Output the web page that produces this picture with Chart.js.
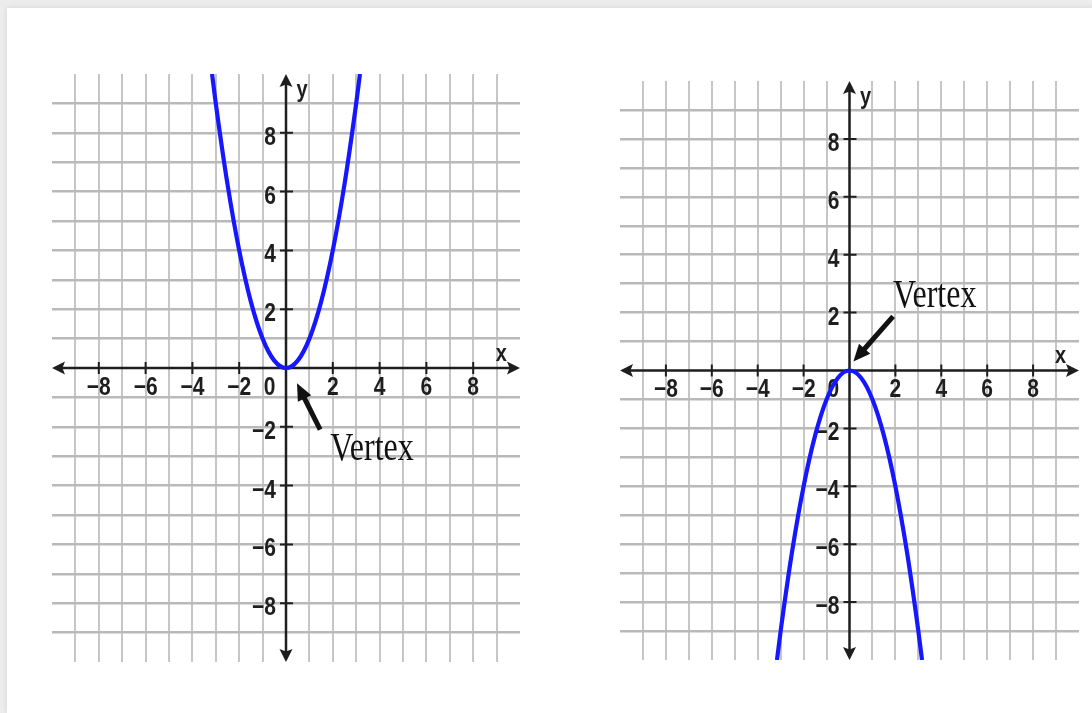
<!DOCTYPE html>
<html>
<head>
<meta charset="utf-8">
<title>Parabolas y = x² and y = −x²</title>
<script src="https://cdn.jsdelivr.net/npm/chart.js@4.4.1/dist/chart.umd.min.js"></script>
<style>
  html, body { margin: 0; padding: 0; width: 1092px; height: 713px; overflow: hidden; background: #ececec; }
  #sheet { position: absolute; left: 7px; top: 8px; right: 0; bottom: 0; background: #ffffff; box-shadow: 0 0 5px rgba(0,0,0,0.10); }
  canvas { position: absolute; top: 0; }
  #upChart { left: 0; }
  #downChart { left: 560px; }
</style>
</head>
<body>
<div id="sheet"></div>
<canvas id="upChart" width="560" height="713"></canvas>
<canvas id="downChart" width="532" height="713"></canvas>
<script>
// Points on the opening-up parabola (left graph)
const upX = [-3.16, -3, -2.5, -2, -1.5, -1, -0.5, 0, 0.5, 1, 1.5, 2, 2.5, 3, 3.16];
const upY = [10, 9, 6.25, 4, 2.25, 1, 0.25, 0, 0.25, 1, 2.25, 4, 6.25, 9, 10];

// Points on the opening-down parabola (right graph)
const downX = [-3.16, -3, -2.5, -2, -1.5, -1, -0.5, 0, 0.5, 1, 1.5, 2, 2.5, 3, 3.16];
const downY = [-10, -9, -6.25, -4, -2.25, -1, -0.25, 0, -0.25, -1, -2.25, -4, -6.25, -9, -10];

// Axis tick values and their printed labels
const xTickValues = [-8, -6, -4, -2, 2, 4, 6, 8];
const xTickLabels = ['\u22128', '\u22126', '\u22124', '\u22122', '2', '4', '6', '8'];
const yTickValues = [8, 6, 4, 2, -2, -4, -6, -8];
const yTickLabels = ['8', '6', '4', '2', '\u22122', '\u22124', '\u22126', '\u22128'];
const originLabel = '0';
const axisNames = ['x', 'y'];
const calloutText = 'Vertex';

// Plot window
const RANGE = 10;

const AXIS_COLOR = '#1e1e1e';
const CURVE_COLOR = 'rgb(22, 22, 255)';
const TICK_FONT = "bold 21px 'Liberation Sans', Arial, sans-serif";
const NAME_FONT = "bold 20px 'Liberation Sans', Arial, sans-serif";
const CALLOUT_FONT = "32px 'Liberation Serif', 'Times New Roman', serif";

function stretchedText(ctx, text, x, y, font, align, baseline, sy) {
  ctx.save();
  ctx.translate(x, y);
  ctx.scale(1, sy);
  ctx.font = font;
  ctx.textAlign = align;
  ctx.textBaseline = baseline;
  ctx.fillText(text, 0, 0);
  ctx.restore();
}

function arrowHead(ctx, tipX, tipY, angle, len, half) {
  ctx.save();
  ctx.translate(tipX, tipY);
  ctx.rotate(angle);
  ctx.beginPath();
  ctx.moveTo(0, 0);
  ctx.lineTo(-len, -half);
  ctx.lineTo(-len * 0.8, 0);
  ctx.lineTo(-len, half);
  ctx.closePath();
  ctx.fill();
  ctx.restore();
}

// Axes through the origin with arrowheads, tick marks, labels and axis names
const axesPlugin = {
  id: 'originAxes',
  beforeDatasetsDraw(chart) {
    const { ctx, scales: { x, y } } = chart;
    const ox = x.getPixelForValue(0), oy = y.getPixelForValue(0);
    const L = x.getPixelForValue(-RANGE), R = x.getPixelForValue(RANGE);
    const T = y.getPixelForValue(RANGE), B = y.getPixelForValue(-RANGE);
    ctx.save();
    ctx.strokeStyle = AXIS_COLOR;
    ctx.fillStyle = AXIS_COLOR;
    ctx.lineWidth = 2.5;
    ctx.beginPath();
    ctx.moveTo(L + 6, oy); ctx.lineTo(R - 6, oy);
    ctx.moveTo(ox, T + 6); ctx.lineTo(ox, B - 6);
    ctx.stroke();
    arrowHead(ctx, R, oy, 0, 13, 6.5);
    arrowHead(ctx, L, oy, Math.PI, 13, 6.5);
    arrowHead(ctx, ox, T, -Math.PI / 2, 13, 6.5);
    arrowHead(ctx, ox, B, Math.PI / 2, 13, 6.5);

    ctx.lineWidth = 2;
    ctx.beginPath();
    xTickValues.forEach(v => {
      const px = x.getPixelForValue(v);
      ctx.moveTo(px, oy - 6); ctx.lineTo(px, oy + 6);
    });
    yTickValues.forEach(v => {
      const py = y.getPixelForValue(v);
      ctx.moveTo(ox - 6, py); ctx.lineTo(ox + 7, py);
    });
    ctx.stroke();

    xTickValues.forEach((v, i) => {
      stretchedText(ctx, xTickLabels[i], x.getPixelForValue(v), oy + 20, TICK_FONT, 'center', 'middle', 1.2);
    });
    stretchedText(ctx, originLabel, x.getPixelForValue(-0.7), oy + 20, TICK_FONT, 'center', 'middle', 1.2);
    yTickValues.forEach((v, i) => {
      stretchedText(ctx, yTickLabels[i], ox - 10, y.getPixelForValue(v) + 5, TICK_FONT, 'right', 'middle', 1.2);
    });

    stretchedText(ctx, axisNames[0], x.getPixelForValue(9.2), oy - 14, NAME_FONT, 'center', 'middle', 1.2);
    stretchedText(ctx, axisNames[1], ox + 16, y.getPixelForValue(9.45), NAME_FONT, 'center', 'middle', 1.2);
    ctx.restore();
  }
};

// "Vertex" callout with a pointer, placed in graph units
const calloutPlugin = {
  id: 'vertexCallout',
  afterDatasetsDraw(chart, args, opts) {
    const { ctx, scales: { x, y } } = chart;
    const tx = x.getPixelForValue(opts.tail[0]), ty = y.getPixelForValue(opts.tail[1]);
    const hx = x.getPixelForValue(opts.tip[0]), hy = y.getPixelForValue(opts.tip[1]);
    const ang = Math.atan2(hy - ty, hx - tx);
    const headLen = 17;
    ctx.save();
    ctx.strokeStyle = '#111';
    ctx.fillStyle = '#111';
    ctx.lineWidth = 5;
    ctx.lineCap = 'butt';
    ctx.beginPath();
    ctx.moveTo(tx, ty);
    ctx.lineTo(hx - Math.cos(ang) * (headLen - 3), hy - Math.sin(ang) * (headLen - 3));
    ctx.stroke();
    ctx.beginPath();
    ctx.save();
    ctx.translate(hx, hy);
    ctx.rotate(ang);
    ctx.moveTo(0, 0);
    ctx.lineTo(-headLen, -7.5);
    ctx.lineTo(-headLen, 7.5);
    ctx.closePath();
    ctx.fill();
    ctx.restore();
    stretchedText(ctx, calloutText, x.getPixelForValue(opts.text[0]), y.getPixelForValue(opts.text[1]),
      CALLOUT_FONT, 'left', 'alphabetic', 1.22);
    ctx.restore();
  }
};

function gridScale(color, width) {
  return {
    type: 'linear',
    min: -RANGE,
    max: RANGE,
    border: { display: false },
    ticks: { display: false, stepSize: 1 },
    grid: {
      drawTicks: false,
      lineWidth: width,
      color: c => (c.tick && (Math.abs(c.tick.value) === RANGE || c.tick.value === 0)) ? 'rgba(0,0,0,0)' : color
    }
  };
}

function makeChart(id, xs, ys, padding, callout) {
  return new Chart(document.getElementById(id), {
    type: 'scatter',
    data: {
      datasets: [{
        data: xs.map((v, i) => ({ x: v, y: ys[i] })),
        showLine: true,
        borderColor: CURVE_COLOR,
        borderWidth: 4.2,
        pointRadius: 0,
        cubicInterpolationMode: 'monotone'
      }]
    },
    options: {
      responsive: false,
      animation: false,
      devicePixelRatio: 1,
      layout: { padding },
      plugins: {
        legend: { display: false },
        tooltip: { enabled: false },
        vertexCallout: callout
      },
      scales: {
        x: gridScale('#c6c6c6', 2),
        y: gridScale('#b9b9b9', 2.5)
      }
    },
    plugins: [axesPlugin, calloutPlugin]
  });
}

makeChart('upChart', upX, upY,
  { left: 52, right: 40, top: 74, bottom: 51 },
  { tail: [1.46, -2.1], tip: [0.47, -0.52], text: [1.89, -3.12] });

makeChart('downChart', downX, downY,
  { left: 60, right: 13, top: 81, bottom: 53 },
  { tail: [1.9, 1.87], tip: [0.17, 0.31], text: [1.89, 2.21] });
</script>
</body>
</html>
